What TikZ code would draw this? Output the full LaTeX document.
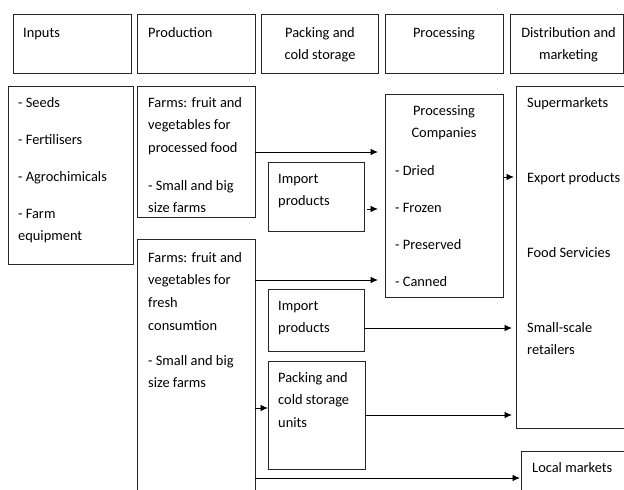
\documentclass[tikz,border=0pt]{standalone}
\usepackage{fontspec}
\setmainfont{Carlito}
\usetikzlibrary{arrows.meta}
\newcommand{\fsz}{\fontsize{14.4}{22.6}\selectfont}
\begin{document}
\begin{tikzpicture}[x=1pt,y=-1pt,
  box/.style={draw=black!85, line width=0.9pt, rectangle, inner sep=0pt, outer sep=0pt, anchor=north west},
  txt/.style={font=\fsz, inner sep=0pt, anchor=north west, align=left},
  ctxt/.style={font=\fsz, inner sep=0pt, anchor=north, align=center},
  arr/.style={line width=0.9pt, -{Latex[length=7.5pt,width=6.5pt]}}]
\clip (0,0) rectangle (624,490);
% header boxes
\node[box, minimum width=118pt, minimum height=59pt] (h1) at (13,14) {};
\node[box, minimum width=117.5pt, minimum height=59pt] (h2) at (137.5,14) {};
\node[box, minimum width=117pt, minimum height=59pt] (h3) at (261,14) {};
\node[box, minimum width=118pt, minimum height=59pt] (h4) at (385,14) {};
\node[box, minimum width=113.5pt, minimum height=59pt] (h5) at (510,14) {};
% main boxes
\node[box, minimum width=125pt, minimum height=178pt] (inp) at (8,86) {};
\node[box, minimum width=117.5pt, minimum height=131pt] (fp) at (137.5,86) {};
\node[box, minimum width=117.5pt, minimum height=260pt] (ff) at (137.5,239) {};
\node[box, minimum width=96pt, minimum height=69pt] (imp1) at (268,162) {};
\node[box, minimum width=118pt, minimum height=203pt] (pc) at (385,94) {};
\node[box, minimum width=120pt, minimum height=342pt] (sm) at (516,86) {};
\node[box, minimum width=96pt, minimum height=62pt] (imp2) at (268,289) {};
\node[box, minimum width=97pt, minimum height=108pt] (pu) at (268,361) {};
\node[box, minimum width=120pt, minimum height=60pt] (lm) at (521,451) {};
% texts
\node[txt] (t1) at (23,21.2) {\strut Inputs};
\node[txt] (t2) at (148,21.2) {\strut Production};
\node[ctxt] (t3) at (320,21.2) {\strut Packing and\\cold storage};
\node[ctxt] (t4) at (444,21.2) {\strut Processing};
\node[ctxt] (t5) at (568.5,21.2) {\strut Distribution and\\marketing};
\node[txt] (tinp) at (18,91.2) {\strut - Seeds\\[14.4pt]- Fertilisers\\[14.4pt]- Agrochimicals\\[14.4pt]- Farm\\equipment};
\node[txt] (tfp) at (148,91.2) {\strut Farms: fruit and\\vegetables for\\processed food\\[15pt]- Small and big\\size farms};
\node[txt] (tff) at (148,246.2) {\strut Farms: fruit and\\vegetables for\\fresh\\consumtion\\[12.5pt]- Small and big\\size farms};
\node[txt] (timp1) at (278,167.2) {\strut Import\\products};
\node[ctxt] (tpc) at (444,99.2) {\strut Processing\\Companies};
\node[txt] (tpcl) at (395,159.2) {\strut - Dried\\[14.4pt]- Frozen\\[14.4pt]- Preserved\\[14.4pt]- Canned};
\node[txt] (tsm) at (527,91.2) {\strut Supermarkets\\[52.4pt]Export products\\[52.4pt]Food Servicies\\[52.4pt]Small-scale\\retailers};
\node[txt] (timp2) at (278,294.2) {\strut Import\\products};
\node[txt] (tpu) at (278,366.2) {\strut Packing and\\cold storage\\units};
\node[txt] (tlm) at (532,456.2) {\strut Local markets};
% connectors
\draw[arr, shorten >=7pt] (fp.east |- 0,152) -- (pc.west |- 0,152);
\draw[arr, shorten <=3pt, shorten >=7pt] (imp1.east |- 0,209) -- (pc.west |- 0,209);
\draw[arr, shorten >=7pt] (ff.east |- 0,280) -- (pc.west |- 0,280);
\draw[arr, shorten >=2pt] (pc.east |- 0,177) -- (sm.west |- 0,177);
\draw[arr, shorten >=4pt] (imp2.east |- 0,328) -- (sm.west |- 0,328);
\draw[arr, shorten >=4pt] (pu.east |- 0,415) -- (sm.west |- 0,415);
\draw[arr] (ff.east |- 0,408) -- (pu.west |- 0,408);
\draw[arr, shorten >=1pt] (ff.east |- 0,478) -- (lm.west |- 0,478);
\end{tikzpicture}
\end{document}
